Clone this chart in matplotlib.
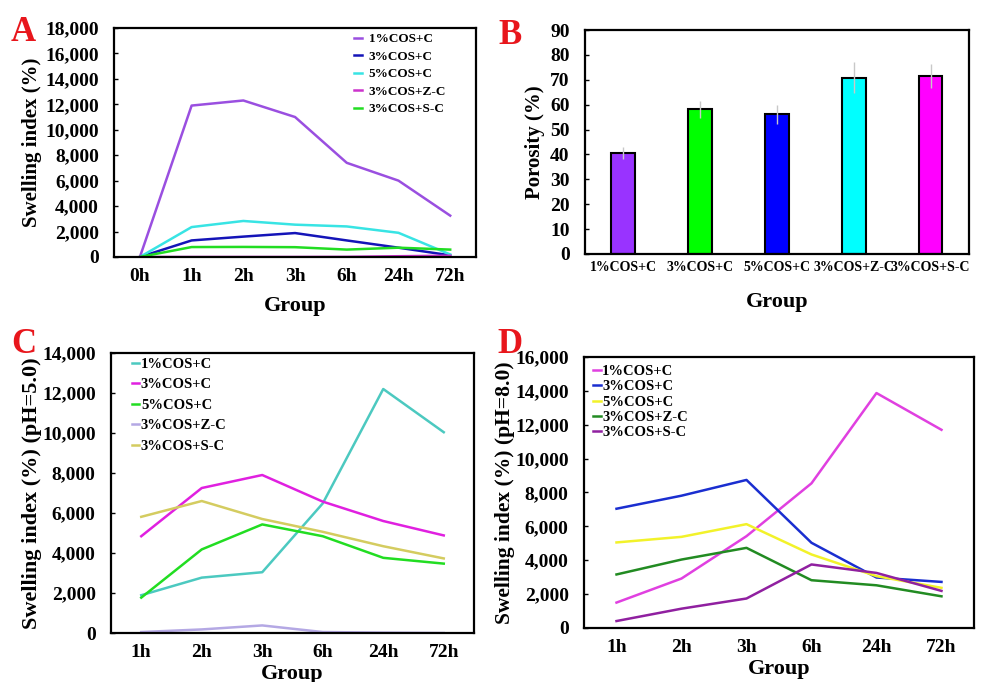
import numpy as np
import matplotlib.pyplot as plt

plt.rcParams['font.family'] = 'Liberation Serif'
plt.rcParams['font.weight'] = 'bold'
plt.rcParams['axes.labelweight'] = 'bold'

grupos = ['1%COS+C', '3%COS+C', '5%COS+C', '3%COS+Z-C', '3%COS+S-C']

# A - swelling index
tempos_a = ['0h', '1h', '2h', '3h', '6h', '24h', '72h']
a_1c = [0, 11900, 12300, 11000, 7400, 6000, 3250]
a_3c = [0, 1300, 1600, 1880, 1300, 730, 130]
a_5c = [0, 2350, 2830, 2540, 2400, 1900, 200]
a_zc = [0, 0, 0, 0, 10, 60, 100]
a_sc = [0, 780, 790, 770, 580, 730, 580]
cores_a = ['#9A4FE0', '#1414B8', '#38E4E4', '#CC33CC', '#22DD22']

# B - porosity
porosidade = [40.7, 58.1, 56.1, 70.9, 71.5]
erro_b = [2.4, 3.3, 3.7, 6.3, 4.7]
cores_b = ['#9933FF', '#00FF00', '#0000FF', '#00FFFF', '#FF00FF']

# C - pH 5.0
tempos_cd = ['1h', '2h', '3h', '6h', '24h', '72h']
c_1c = [1890, 2770, 3040, 6480, 12200, 10040]
c_3c = [4840, 7250, 7900, 6570, 5600, 4880]
c_5c = [1770, 4180, 5430, 4840, 3760, 3470]
c_zc = [50, 180, 380, 50, 20, 0]
c_sc = [5810, 6600, 5700, 5060, 4340, 3730]
cores_c = ['#4CC9C0', '#E020E0', '#22DD22', '#B4A8E4', '#D4CC60']

# D - pH 8.0
d_1c = [1500, 2920, 5420, 8540, 13870, 11700]
d_3c = [7040, 7810, 8740, 5030, 2980, 2720]
d_5c = [5050, 5380, 6130, 4340, 3060, 2370]
d_zc = [3160, 4040, 4730, 2820, 2520, 1870]
d_sc = [410, 1140, 1740, 3750, 3250, 2190]
cores_d = ['#E040E0', '#1A2ED0', '#F2F22A', '#228B22', '#9020A0']

fig = plt.figure(figsize=(9.84, 6.82), dpi=100)
axA = fig.add_axes([0.1159, 0.6232, 0.3679, 0.3358])
axB = fig.add_axes([0.5945, 0.6276, 0.3902, 0.3284])
axC = fig.add_axes([0.1128, 0.0718, 0.3689, 0.4106])
axD = fig.add_axes([0.5935, 0.0792, 0.3963, 0.3974])

def estilo(ax):
    for s in ax.spines.values():
        s.set_linewidth(1.6)
    ax.tick_params(direction='in', labelsize=14, width=1, length=3)
    ax.tick_params(axis='y', pad=11)
    ax.tick_params(axis='x', length=0, pad=8)

def milhar(ax):
    ax.set_yticks(ax.get_yticks())
    ax.set_yticklabels(['{:,}'.format(int(v)) for v in ax.get_yticks()])

# A
xa = np.arange(len(tempos_a))
for serie, nome, cor in zip([a_1c, a_3c, a_5c, a_zc, a_sc], grupos, cores_a):
    axA.plot(xa, serie, color=cor, lw=1.8, label=nome)
axA.set_xlim(-0.5, 6.5)
axA.set_ylim(0, 18000)
axA.set_yticks(np.arange(0, 18001, 2000))
milhar(axA)
axA.set_xticks(xa)
axA.set_xticklabels(tempos_a)
axA.set_xlabel('Group', fontsize=16, labelpad=8)
axA.set_ylabel('Swelling index (%)', fontsize=15, labelpad=2)
axA.legend(loc='upper right', frameon=False, fontsize=9.5, handlelength=0.6,
           handletextpad=0.5, labelspacing=0.4, bbox_to_anchor=(0.95, 1.03))
estilo(axA)

# B
xb = np.arange(len(grupos))
axB.bar(xb, porosidade, width=0.31, color=cores_b, edgecolor='black', linewidth=1.5)
axB.errorbar(xb, porosidade, yerr=erro_b, fmt='none', ecolor='#C8C8C8', elinewidth=1, capsize=0)
axB.set_xlim(-0.5, 4.5)
axB.set_ylim(0, 90)
axB.set_yticks(np.arange(0, 91, 10))
axB.set_xticks(xb)
axB.set_xticklabels(grupos)
axB.set_xlabel('Group', fontsize=16, labelpad=13)
axB.set_ylabel('Porosity (%)', fontsize=15, labelpad=4)
estilo(axB)
axB.tick_params(axis='x', pad=5, labelsize=10)

# C
xc = np.arange(len(tempos_cd))
for serie, nome, cor in zip([c_1c, c_3c, c_5c, c_zc, c_sc], grupos, cores_c):
    axC.plot(xc, serie, color=cor, lw=1.8, label=nome)
axC.set_xlim(-0.5, 5.5)
axC.set_ylim(0, 14000)
axC.set_yticks(np.arange(0, 14001, 2000))
milhar(axC)
axC.set_xticks(xc)
axC.set_xticklabels(tempos_cd)
axC.set_xlabel('Group', fontsize=16, labelpad=2)
axC.set_ylabel('Swelling index (%) (pH=5.0)', fontsize=16, labelpad=0)
axC.legend(loc='upper left', frameon=False, fontsize=10.5, handlelength=0.5,
           handletextpad=0.1, labelspacing=0.5, bbox_to_anchor=(0.022, 1.03))
estilo(axC)

# D
for serie, nome, cor in zip([d_1c, d_3c, d_5c, d_zc, d_sc], grupos, cores_d):
    axD.plot(xc, serie, color=cor, lw=1.8, label=nome)
axD.set_xlim(-0.5, 5.5)
axD.set_ylim(0, 16000)
axD.set_yticks(np.arange(0, 16001, 2000))
milhar(axD)
axD.set_xticks(xc)
axD.set_xticklabels(tempos_cd)
axD.set_xlabel('Group', fontsize=16, labelpad=2)
axD.set_ylabel('Swelling index (%) (pH=8.0)', fontsize=15.5, labelpad=0)
axD.legend(loc='upper left', frameon=False, fontsize=10.5, handlelength=0.5,
           handletextpad=0.1, labelspacing=0.15, bbox_to_anchor=(-0.01, 1.02))
estilo(axD)

for letra, x, y in [('A', 0.024, 0.953), ('B', 0.518, 0.948), ('C', 0.024, 0.495), ('D', 0.518, 0.495)]:
    fig.text(x, y, letra, color='#E8161C', fontsize=25, fontweight='bold', ha='center', va='center')

fig.savefig('out.png', dpi=100)
